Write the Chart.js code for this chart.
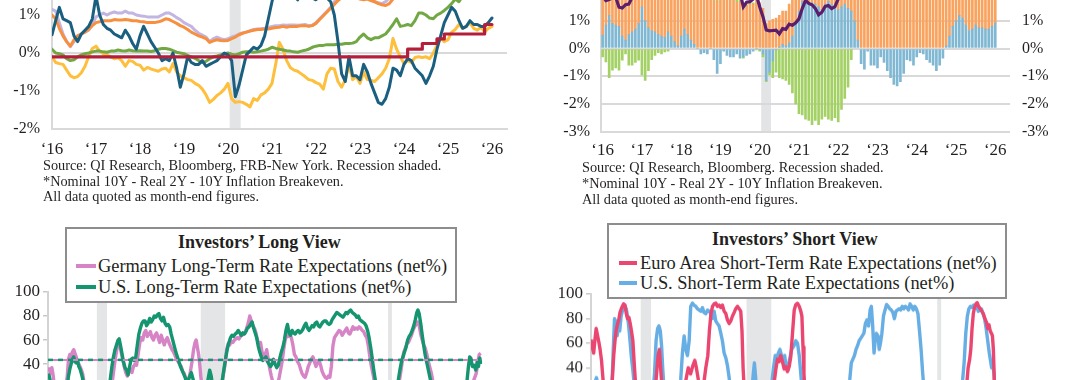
<!DOCTYPE html>
<html>
<head>
<meta charset="utf-8">
<title>Rates dashboard</title>
<script src="https://cdn.jsdelivr.net/npm/chart.js@4.4.1/dist/chart.umd.min.js"></script>
<style>
  html, body { margin:0; padding:0; background:#ffffff; }
  body { width:1080px; height:380px; overflow:hidden; position:relative; font-family:"Liberation Serif","Times New Roman",serif; color:#231f20; }
  .cbox { position:absolute; }
  .cbox canvas { display:block; }
  .note { position:absolute; font-size:14.3px; white-space:nowrap; z-index:4; }
  .legend { position:absolute; background:#fff; border:2px solid #8d8d8d; box-sizing:border-box; z-index:5; }
  .ltxt { position:absolute; white-space:nowrap; font-size:18.4px; line-height:20px; z-index:6; }
  .ltitle { position:absolute; white-space:nowrap; font-size:18px; line-height:20px; font-weight:bold; z-index:6; }
  .sw { position:absolute; height:4px; width:20px; z-index:6; }
</style>
</head>
<body>
<div class="cbox" style="left:0px;top:-70.7px;width:517px;height:235px"><canvas id="tl"></canvas></div>
<div class="cbox" style="left:541px;top:-100.2px;width:529px;height:266.6px"><canvas id="tr"></canvas></div>
<div class="cbox" style="left:0px;top:281.7px;width:487.3px;height:252px"><canvas id="bl"></canvas></div>
<div class="cbox" style="left:541px;top:284.3px;width:497.2px;height:256.6px"><canvas id="br"></canvas></div>

<div class="note" style="left:43px;top:158px;line-height:15.5px">Source: QI Research, Bloomberg, FRB-New York. Recession shaded.<br>*Nominal 10Y - Real 2Y - 10Y Inflation Breakeven.<br>All data quoted as month-end figures.</div>
<div class="note" style="left:582px;top:158.5px;line-height:16.3px">Source: QI Research, Bloomberg. Recession shaded.<br>*Nominal 10Y - Real 2Y - 10Y Inflation Breakeven.<br>All data quoted as month-end figures.</div>

<div class="legend" style="left:65px;top:227px;width:392px;height:76px"></div>
<div class="ltitle" style="left:178px;top:232px">Investors’ Long View</div>
<div class="sw" style="left:76px;top:264px;background:#d684c5"></div>
<div class="ltxt" style="left:98px;top:256px">Germany Long-Term Rate Expectations (net%)</div>
<div class="sw" style="left:76px;top:285px;background:#14956f"></div>
<div class="ltxt" style="left:98px;top:277px">U.S. Long-Term Rate Expectations (net%)</div>

<div class="legend" style="left:607px;top:223px;width:400px;height:76px"></div>
<div class="ltitle" style="left:712px;top:229px">Investors’ Short View</div>
<div class="sw" style="left:619px;top:261px;width:18px;background:#ea4670"></div>
<div class="ltxt" style="left:640px;top:253px">Euro Area Short-Term Rate Expectations (net%)</div>
<div class="sw" style="left:619px;top:281px;width:18px;background:#67aee4"></div>
<div class="ltxt" style="left:640px;top:273px">U.S. Short-Term Rate Expectations (net%)</div>

<script>
// ---------------- DATA ----------------
const yearTicks = ['‘16','‘17','‘18','‘19','‘20','‘21','‘22','‘23','‘24','‘25','‘26'];
const recessions = [[2001.17,2001.83],[2007.92,2009.5],[2020.08,2020.33]];

// Top-left: monthly, Jan 2016 .. Jan 2026 (percent)
const residualPct = [
 0.48,0.85,1.2,0.9,0.85,0.8,0.45,0.3,0.5,0.6,0.7,0.9,
 1.5,1.0,0.75,0.65,0.6,0.5,0.45,0.4,0.6,0.45,0.25,0.1,
 0.45,0.7,0.5,0.3,0.15,0.0,-0.2,-0.15,-0.2,0.0,-0.4,-0.9,
 -0.55,-0.1,-0.25,-0.3,-0.3,-0.2,-0.35,-0.3,-0.25,-0.2,-0.1,0.0,
 -0.05,-0.2,-1.15,-0.85,-0.45,-0.05,0.05,0.15,0.1,0.2,0.45,0.9,
 1.35,1.7,1.8,1.6,1.65,1.6,1.5,1.4,1.6,1.7,1.6,1.45,
 1.4,1.5,1.6,1.45,1.35,1.0,0.3,-0.55,-0.75,-0.1,-0.6,-0.6,
 -0.7,-0.3,-0.5,-0.8,-1.05,-1.3,-1.35,-1.2,-0.9,-0.4,-0.45,-0.6,
 -0.3,-0.15,-0.2,-0.4,-0.5,-0.6,-0.8,-0.6,-0.35,0.1,0.45,0.8,
 1.0,1.2,1.1,0.85,0.65,0.7,0.85,0.75,0.75,0.7,0.7,0.8,
 0.92];
const lilacPct = [
 1.15,1.1,0.8,0.5,0.3,0.17,0.3,0.45,0.5,0.55,0.6,0.75,
 0.95,1.0,1.05,1.0,1.05,1.08,1.05,1.05,1.1,1.05,1.05,1.0,
 0.98,0.97,0.95,0.95,0.95,0.95,1.0,1.05,1.05,1.0,0.93,0.88,
 0.8,0.75,0.7,0.6,0.52,0.47,0.42,0.3,0.38,0.42,0.38,0.35,
 0.38,0.42,0.45,0.5,0.53,0.55,0.58,0.62,0.63,0.64,0.65,0.67,
 0.7,0.72,0.72,0.74,0.73,0.74,0.74,0.73,0.74,0.75,0.72,0.73,
 0.8,0.9,1.0,1.1,1.2,1.35,1.42,1.5,1.55,1.6,1.55,1.5,
 1.45,1.42,1.45,1.4,1.35,1.32,1.3,1.35,1.45,1.55,1.6,1.65,
 1.7,1.72,1.75,1.8,1.78,1.75,1.7,1.72,1.75,1.8,1.85,1.9,
 1.9,1.95,2.0,2.0,1.95,1.9,1.95,2.0,2.0,2.05,2.05,2.1,
 2.1];
const orangePct = [
 1.0,0.9,0.65,0.45,0.3,0.18,0.35,0.45,0.5,0.55,0.62,0.72,
 0.8,0.82,0.85,0.85,0.85,0.88,0.87,0.87,0.88,0.87,0.85,0.85,
 0.83,0.82,0.8,0.8,0.8,0.82,0.85,0.9,0.88,0.83,0.78,0.72,
 0.68,0.62,0.55,0.5,0.45,0.42,0.38,0.28,0.32,0.35,0.33,0.32,
 0.33,0.38,0.42,0.48,0.52,0.55,0.58,0.6,0.62,0.62,0.63,0.63,
 0.65,0.67,0.68,0.7,0.68,0.7,0.7,0.7,0.72,0.72,0.7,0.72,
 0.78,0.88,0.98,1.08,1.18,1.28,1.38,1.45,1.5,1.55,1.5,1.45,
 1.42,1.4,1.42,1.38,1.35,1.3,1.27,1.25,1.3,1.42,1.5,1.55,
 1.6,1.62,1.65,1.7,1.68,1.65,1.62,1.65,1.68,1.72,1.78,1.82,
 1.85,1.88,1.9,1.92,1.88,1.85,1.88,1.92,1.95,1.98,2.0,2.02,
 2.05];
const greenPct = [
 0.1,0.0,-0.02,-0.05,-0.15,-0.2,-0.18,-0.1,-0.05,-0.02,0.0,0.03,
 0.05,0.05,0.03,0.02,0.05,0.05,0.08,0.06,0.05,0.08,0.06,0.05,
 0.06,0.05,0.05,0.04,0.06,0.1,0.12,0.12,0.1,0.06,0.02,0.0,
 -0.02,-0.06,-0.1,-0.14,-0.2,-0.25,-0.22,-0.15,-0.1,-0.08,-0.05,-0.02,
 0.0,-0.03,-0.05,-0.02,0.02,0.03,0.03,0.02,0.03,0.05,0.07,0.1,
 0.15,0.12,0.1,0.08,0.06,0.05,0.03,0.02,0.05,0.07,0.1,0.15,
 0.18,0.2,0.2,0.22,0.22,0.22,0.23,0.23,0.25,0.25,0.26,0.3,
 0.42,0.5,0.4,0.35,0.4,0.4,0.45,0.5,0.62,0.75,0.9,0.7,
 0.72,0.75,0.72,0.85,1.05,1.05,1.0,0.92,0.9,1.0,1.05,1.12,
 1.2,1.3,1.42,1.35,1.5,1.55,1.6,1.55,1.6,1.65,1.6,1.65,
 1.7];
const goldPct = [
 -0.1,-0.25,-0.28,-0.3,-0.45,-0.6,-0.65,-0.62,-0.52,-0.35,-0.1,0.12,
 0.18,0.05,-0.02,-0.05,-0.1,-0.15,-0.12,-0.2,-0.35,-0.2,-0.22,-0.3,
 -0.32,-0.45,-0.38,-0.42,-0.45,-0.48,-0.42,-0.4,-0.5,-0.28,-0.5,-0.6,
 -0.65,-0.7,-0.72,-0.8,-0.85,-0.95,-1.1,-1.3,-1.22,-1.12,-1.05,-0.95,
 -0.8,-1.2,-1.3,-1.28,-1.3,-1.35,-1.42,-1.2,-1.25,-1.1,-1.05,-0.95,
 -0.8,-0.3,0.28,0.1,-0.2,-0.38,-0.45,-0.48,-0.55,-0.62,-0.7,-0.72,
 -0.78,-0.82,-0.95,-0.55,-0.4,-0.42,-0.75,-0.9,-0.7,-0.3,-0.7,-0.62,
 -0.8,-0.5,-0.7,-0.72,-0.75,-0.65,-0.55,-0.4,-0.15,0.38,0.1,-0.1,
 -0.28,-0.2,-0.25,-0.12,-0.1,-0.12,-0.1,-0.15,0.0,0.2,0.4,0.3,
 0.35,0.55,0.62,0.75,0.65,0.7,0.8,0.65,0.6,0.68,0.55,0.65,
 0.7];
const stepMonth = [0,97,101,105,107,118,120];
const stepPct   = [-0.1,0.1,0.25,0.37,0.5,0.75,0.75];

// Top-right: monthly stacked bars (blue bars = residualPct)
const breakeven10y = [
 1.6,1.7,1.63,1.68,1.6,1.45,1.5,1.5,1.6,1.7,1.9,1.97,
 2.0,2.0,1.95,1.9,1.85,1.75,1.8,1.8,1.85,1.9,1.9,1.97,
 2.1,2.1,2.05,2.17,2.1,2.1,2.1,2.1,2.14,2.1,1.95,1.7,
 1.8,1.85,1.9,1.9,1.75,1.68,1.7,1.55,1.53,1.6,1.6,1.75,
 1.65,1.45,0.9,1.0,1.05,1.1,1.15,1.2,1.25,1.4,1.55,1.8,
 2.1,2.15,2.37,2.4,2.45,2.3,2.35,2.35,2.37,2.55,2.5,2.55,
 2.45,2.6,2.8,2.9,2.65,2.35,2.4,2.45,2.15,2.5,2.4,2.3,
 2.25,2.4,2.3,2.25,2.25,2.2,2.3,2.3,2.35,2.45,2.25,2.15,
 2.3,2.35,2.3,2.45,2.3,2.25,2.25,2.1,2.15,2.3,2.35,2.3,
 2.4,2.4,2.4,2.2,2.35,2.3,2.4,2.35,2.35,2.3,2.25,2.25,
 2.3];
const real2y = [
 -0.3,-0.48,-1.05,-0.78,-0.7,-0.78,-0.42,-0.2,-0.6,-0.6,-0.5,-0.42,
 -0.95,-1.15,-0.8,-0.4,-0.25,-0.15,-0.2,-0.12,-0.1,0.05,0.15,0.2,
 0.3,0.4,0.5,0.55,0.6,0.7,0.75,0.7,0.85,0.95,0.9,0.7,
 0.8,0.9,0.5,0.5,0.25,0.2,0.1,-0.05,0.05,0.1,0.05,-0.05,
 -0.05,-0.1,-0.05,-0.1,-0.6,-0.8,-1.05,-1.1,-1.15,-1.3,-1.6,-2.0,
 -2.35,-2.4,-2.55,-2.6,-2.75,-2.6,-2.75,-2.55,-2.45,-2.55,-2.6,-2.5,
 -2.65,-2.2,-1.8,-1.4,-0.4,0.2,0.5,0.9,1.6,1.9,1.8,2.0,
 1.9,2.3,1.7,1.6,1.9,2.2,2.1,2.3,2.5,2.4,2.2,1.8,
 1.8,2.1,2.0,2.3,2.1,2.0,1.7,1.4,1.2,1.6,1.6,1.8,
 1.7,1.5,1.3,1.2,1.5,1.3,1.4,1.2,1.1,1.0,1.0,1.1,
 1.2];
const nominal10y = [
 1.92,1.73,1.77,1.83,1.85,1.49,1.46,1.58,1.6,1.84,2.37,2.45,
 2.45,2.39,2.4,2.29,2.21,2.31,2.3,2.12,2.33,2.38,2.41,2.4,
 2.72,2.87,2.74,2.95,2.83,2.85,2.96,2.86,3.06,3.15,3.01,2.69,
 2.63,2.72,2.41,2.51,2.14,2.0,2.02,1.5,1.67,1.69,1.78,1.92,
 1.51,1.15,0.67,0.64,0.65,0.66,0.53,0.72,0.69,0.88,0.84,0.93,
 1.07,1.44,1.74,1.63,1.58,1.45,1.22,1.31,1.52,1.55,1.44,1.51,
 1.79,1.83,2.32,2.89,2.85,2.98,2.65,3.19,3.83,4.05,3.68,3.88,
 3.52,3.92,3.49,3.44,3.64,3.84,3.97,4.09,4.59,4.93,4.33,3.88,
 3.91,4.25,4.2,4.68,4.51,4.4,4.03,3.91,3.78,4.28,4.17,4.57,
 4.54,4.21,4.21,4.16,4.4,4.23,4.37,4.23,4.15,4.08,4.02,4.17,
 4.24];

// Bottom-left: [year, net%]
const deLongView = [[1998.00,34],[1998.08,36],[1998.17,32],[1998.25,37],[1998.33,31],[1998.45,18],[1998.80,5],[1999.10,15],[1999.25,30],[1999.33,44],[1999.42,48],[1999.50,46],[1999.58,50],[1999.67,52],[1999.75,49],[1999.83,46],[1999.92,42],[2000.00,40],[2000.08,38],[2000.17,35],[2000.25,32],[2000.40,20],[2000.80,5],[2001.50,-5],[2002.00,10],[2002.20,28],[2002.30,38],[2002.40,47],[2002.50,54],[2002.58,58],[2002.67,56],[2002.75,50],[2002.85,44],[2002.95,38],[2003.05,33],[2003.15,30],[2003.25,34],[2003.35,36],[2003.45,33],[2003.55,38],[2003.65,40],[2003.75,39],[2003.85,48],[2003.95,57],[2004.05,62],[2004.15,60],[2004.25,66],[2004.35,68],[2004.45,63],[2004.55,65],[2004.65,67],[2004.75,62],[2004.85,60],[2004.95,64],[2005.05,66],[2005.15,62],[2005.25,58],[2005.35,64],[2005.45,60],[2005.55,56],[2005.65,60],[2005.75,62],[2005.85,58],[2005.95,55],[2006.05,52],[2006.15,50],[2006.25,47],[2006.35,44],[2006.45,42],[2006.55,40],[2006.65,38],[2006.75,34],[2006.85,32],[2006.95,28],[2007.05,24],[2007.15,28],[2007.25,34],[2007.35,42],[2007.45,52],[2007.55,58],[2007.62,60],[2007.70,54],[2007.78,48],[2007.85,40],[2007.92,30],[2008.05,15],[2008.50,0],[2009.00,10],[2009.30,25],[2009.50,40],[2009.60,52],[2009.70,57],[2009.80,56],[2009.90,59],[2010.00,58],[2010.10,60],[2010.20,61],[2010.30,62],[2010.40,61],[2010.50,63],[2010.60,64],[2010.70,65],[2010.80,66],[2010.90,70],[2011.00,74],[2011.10,80],[2011.20,76],[2011.30,72],[2011.40,70],[2011.50,66],[2011.60,60],[2011.70,57],[2011.80,58],[2011.90,50],[2012.00,46],[2012.10,48],[2012.20,52],[2012.30,44],[2012.40,36],[2012.50,30],[2012.60,25],[2012.80,20],[2013.00,28],[2013.10,35],[2013.20,42],[2013.30,52],[2013.40,60],[2013.50,64],[2013.60,63],[2013.70,64],[2013.80,62],[2013.90,56],[2014.00,48],[2014.10,46],[2014.20,42],[2014.30,40],[2014.40,36],[2014.50,32],[2014.60,30],[2014.70,29],[2014.80,33],[2014.90,38],[2015.00,41],[2015.10,44],[2015.20,46],[2015.30,42],[2015.40,38],[2015.50,41],[2015.60,43],[2015.70,39],[2015.80,34],[2015.90,31],[2016.00,29],[2016.10,28],[2016.20,30],[2016.30,29],[2016.40,38],[2016.50,55],[2016.60,62],[2016.70,64],[2016.80,66],[2016.90,68],[2017.00,67],[2017.10,64],[2017.20,66],[2017.30,68],[2017.40,70],[2017.50,66],[2017.60,65],[2017.70,68],[2017.80,71],[2017.90,69],[2018.00,70],[2018.10,69],[2018.20,71],[2018.30,70],[2018.40,68],[2018.50,67],[2018.60,64],[2018.70,62],[2018.80,55],[2018.90,46],[2019.00,38],[2019.10,32],[2019.20,25],[2019.40,10],[2019.80,0],[2020.30,-10],[2020.60,5],[2020.80,25],[2020.90,33],[2021.00,42],[2021.10,50],[2021.20,53],[2021.30,57],[2021.40,58],[2021.50,61],[2021.60,64],[2021.70,68],[2021.80,71],[2021.90,73],[2022.00,75],[2022.10,72],[2022.20,65],[2022.30,60],[2022.40,56],[2022.50,53],[2022.60,48],[2022.70,42],[2022.80,37],[2022.90,32],[2023.00,25],[2023.30,10],[2024.00,0],[2024.80,10],[2025.30,20],[2025.60,25],[2025.80,32],[2025.90,40],[2026.00,48],[2026.10,49]];
const usLongView = [[1998.00,32],[1998.08,30],[1998.15,26],[1998.30,10],[1998.80,0],[1999.20,15],[1999.33,30],[1999.42,36],[1999.50,40],[1999.58,44],[1999.67,46],[1999.75,42],[1999.83,41],[1999.92,43],[2000.00,38],[2000.08,36],[2000.17,32],[2000.25,28],[2000.40,15],[2000.80,0],[2001.50,-10],[2001.90,10],[2002.05,28],[2002.15,38],[2002.25,46],[2002.35,52],[2002.45,56],[2002.55,60],[2002.62,61],[2002.70,56],[2002.80,49],[2002.90,42],[2003.00,37],[2003.10,35],[2003.20,31],[2003.30,38],[2003.40,44],[2003.50,45],[2003.60,43],[2003.70,46],[2003.80,56],[2003.90,65],[2004.00,70],[2004.10,74],[2004.20,76],[2004.30,76],[2004.40,72],[2004.50,74],[2004.60,78],[2004.70,75],[2004.80,77],[2004.90,80],[2005.00,79],[2005.10,81],[2005.20,82],[2005.30,78],[2005.40,76],[2005.50,79],[2005.60,74],[2005.70,72],[2005.80,73],[2005.90,71],[2006.00,65],[2006.10,60],[2006.20,55],[2006.30,50],[2006.40,46],[2006.50,42],[2006.60,38],[2006.70,35],[2006.80,32],[2006.90,29],[2007.00,25],[2007.15,28],[2007.30,33],[2007.45,26],[2007.70,10],[2008.00,5],[2008.30,20],[2008.40,28],[2008.50,35],[2008.60,30],[2008.70,20],[2009.00,5],[2009.30,25],[2009.45,38],[2009.55,46],[2009.65,53],[2009.75,58],[2009.85,62],[2009.95,64],[2010.05,63],[2010.15,65],[2010.25,66],[2010.35,68],[2010.45,66],[2010.55,64],[2010.65,66],[2010.75,65],[2010.85,67],[2010.95,70],[2011.05,71],[2011.15,73],[2011.25,75],[2011.35,70],[2011.45,66],[2011.55,62],[2011.65,55],[2011.75,50],[2011.85,46],[2011.95,43],[2012.05,44],[2012.15,46],[2012.25,42],[2012.35,40],[2012.45,38],[2012.55,40],[2012.65,44],[2012.75,40],[2012.85,37],[2012.95,39],[2013.05,45],[2013.15,50],[2013.25,54],[2013.35,60],[2013.45,68],[2013.55,73],[2013.65,66],[2013.75,64],[2013.85,68],[2013.95,66],[2014.05,65],[2014.15,67],[2014.25,68],[2014.35,66],[2014.45,67],[2014.55,69],[2014.65,72],[2014.75,74],[2014.85,70],[2014.95,68],[2015.05,70],[2015.15,72],[2015.25,71],[2015.35,74],[2015.45,75],[2015.55,72],[2015.65,71],[2015.75,73],[2015.85,75],[2015.95,76],[2016.05,76],[2016.15,74],[2016.25,73],[2016.35,74],[2016.45,77],[2016.55,79],[2016.65,81],[2016.75,83],[2016.85,82],[2016.95,81],[2017.05,80],[2017.15,79],[2017.25,81],[2017.35,83],[2017.45,82],[2017.55,84],[2017.65,85],[2017.75,83],[2017.85,82],[2017.95,81],[2018.05,79],[2018.15,80],[2018.25,77],[2018.35,76],[2018.45,75],[2018.55,74],[2018.65,72],[2018.75,68],[2018.85,62],[2018.95,54],[2019.05,45],[2019.15,35],[2019.25,27],[2019.40,15],[2019.80,0],[2020.30,-10],[2020.60,10],[2020.75,27],[2020.85,35],[2020.95,42],[2021.05,46],[2021.15,50],[2021.25,54],[2021.35,60],[2021.45,63],[2021.55,65],[2021.65,68],[2021.75,72],[2021.85,77],[2021.95,83],[2022.02,85],[2022.10,82],[2022.20,74],[2022.30,64],[2022.40,55],[2022.50,47],[2022.60,41],[2022.70,35],[2022.80,29],[2022.95,20],[2023.50,5],[2024.30,0],[2024.90,15],[2025.20,25],[2025.30,38],[2025.38,46],[2025.45,45],[2025.56,38],[2025.67,39],[2025.78,35],[2025.88,43],[2025.95,38],[2026.04,45],[2026.10,40]];
const longViewAverage = [43.5, 43.5]; // [Germany, U.S.] long-run means

// Bottom-right: [year, net%]
const euShortView = [[1998.00,63],[1998.08,57],[1998.17,52],[1998.25,63],[1998.33,72],[1998.42,66],[1998.50,61],[1998.58,55],[1998.67,46],[1998.77,30],[1998.90,10],[1999.10,5],[1999.30,20],[1999.38,35],[1999.45,50],[1999.53,62],[1999.60,70],[1999.68,75],[1999.77,79],[1999.85,85],[1999.93,88],[2000.00,90],[2000.08,92],[2000.17,91],[2000.25,84],[2000.33,80],[2000.42,81],[2000.50,76],[2000.58,70],[2000.67,62],[2000.75,45],[2000.85,25],[2001.10,0],[2001.60,-20],[2002.00,5],[2002.15,30],[2002.28,50],[2002.36,55],[2002.44,40],[2002.55,20],[2002.90,0],[2003.50,-10],[2003.90,20],[2004.05,30],[2004.20,40],[2004.35,35],[2004.50,42],[2004.62,46],[2004.72,40],[2004.85,30],[2005.00,20],[2005.20,28],[2005.32,40],[2005.45,50],[2005.55,70],[2005.65,84],[2005.75,90],[2005.85,92],[2005.96,92.7],[2006.06,90],[2006.17,91],[2006.28,89],[2006.38,91],[2006.49,86],[2006.60,84],[2006.70,79],[2006.81,76],[2006.91,78],[2007.02,82],[2007.13,85],[2007.23,88],[2007.34,90],[2007.45,88],[2007.55,86],[2007.63,70],[2007.70,40],[2007.80,15],[2008.00,-20],[2008.80,-50],[2009.30,10],[2009.70,30],[2009.79,39],[2009.89,47],[2010.00,45],[2010.10,50],[2010.21,45],[2010.32,39],[2010.43,41],[2010.53,37],[2010.64,41],[2010.74,49],[2010.85,68],[2010.96,87],[2011.06,91.4],[2011.17,92.5],[2011.28,90],[2011.38,86],[2011.45,82],[2011.52,57],[2011.58,35],[2011.70,10],[2012.00,-30],[2013.00,-50],[2014.50,-60],[2016.00,-70],[2017.50,-40],[2018.50,-20],[2019.50,-50],[2020.50,-40],[2021.50,-10],[2021.85,20],[2021.95,25],[2022.05,40],[2022.15,47],[2022.22,55],[2022.30,72],[2022.38,84],[2022.46,89],[2022.55,92],[2022.63,93],[2022.72,90],[2022.82,88],[2022.92,86],[2023.02,84],[2023.12,80],[2023.22,77],[2023.30,72],[2023.38,75],[2023.46,70],[2023.54,68],[2023.60,66],[2023.66,55],[2023.72,30],[2023.85,10],[2024.30,-40],[2025.00,-50],[2025.60,-20],[2026.10,-10]];
const usShortView = [[1998.00,15],[1998.25,28],[1998.35,32],[1998.45,25],[1998.70,0],[1999.20,10],[1999.35,30],[1999.42,55],[1999.50,80],[1999.58,78],[1999.67,66],[1999.75,78],[1999.83,70],[1999.92,82],[2000.00,86],[2000.08,88],[2000.17,90],[2000.25,88],[2000.33,82],[2000.42,72],[2000.50,60],[2000.58,48],[2000.67,38],[2000.80,20],[2001.20,-20],[2001.70,-10],[2001.95,20],[2002.05,35],[2002.15,62],[2002.25,72],[2002.33,74],[2002.42,70],[2002.50,58],[2002.58,38],[2002.70,15],[2003.00,-10],[2003.50,10],[2003.72,30],[2003.83,52],[2003.94,66],[2004.04,55],[2004.15,50],[2004.26,62],[2004.36,90],[2004.47,92.7],[2004.57,91],[2004.68,90],[2004.79,88],[2004.89,87],[2005.00,86],[2005.11,89],[2005.20,85],[2005.32,84],[2005.43,87],[2005.53,86],[2005.64,84],[2005.74,80],[2005.85,86],[2005.96,78],[2006.06,76],[2006.17,74],[2006.28,68],[2006.38,62],[2006.49,52],[2006.60,48],[2006.70,42],[2006.81,32],[2006.91,20],[2007.50,-10],[2008.00,-20],[2008.25,20],[2008.35,35],[2008.42,44],[2008.50,32],[2008.60,10],[2009.00,-20],[2009.40,20],[2009.55,30],[2009.65,41],[2009.75,50],[2009.85,48],[2009.95,52],[2010.05,55],[2010.15,50],[2010.25,46],[2010.35,50],[2010.45,40],[2010.55,38],[2010.65,46],[2010.80,55],[2010.95,58],[2011.06,62],[2011.17,60],[2011.28,50],[2011.40,32],[2011.50,15],[2012.00,-20],[2013.00,-10],[2014.00,-5],[2014.40,20],[2014.50,30],[2014.60,44],[2014.70,47],[2014.80,50],[2014.90,55],[2015.00,58],[2015.10,62],[2015.20,64],[2015.30,66],[2015.40,68],[2015.50,76],[2015.60,79],[2015.70,74],[2015.80,87],[2015.88,90],[2015.96,75],[2016.05,52],[2016.12,62],[2016.20,68],[2016.30,66],[2016.38,55],[2016.46,60],[2016.55,68],[2016.65,82],[2016.75,87],[2016.85,91.5],[2016.95,90],[2017.05,88],[2017.15,87],[2017.25,85],[2017.35,80],[2017.45,86],[2017.55,87],[2017.65,88],[2017.75,87],[2017.85,90],[2017.95,88],[2018.05,90],[2018.15,89],[2018.25,87],[2018.35,92],[2018.45,90],[2018.55,87],[2018.65,90],[2018.75,88],[2018.85,84],[2018.95,70],[2019.05,55],[2019.15,36],[2019.25,20],[2019.60,-30],[2020.20,-70],[2020.80,-40],[2021.40,0],[2021.60,20],[2021.70,30],[2021.80,45],[2021.90,68],[2022.00,82],[2022.10,88],[2022.20,90],[2022.30,89],[2022.40,91],[2022.50,89],[2022.60,90],[2022.70,86],[2022.80,87],[2022.90,88],[2023.00,84],[2023.10,80],[2023.20,72],[2023.30,62],[2023.40,52],[2023.50,44],[2023.55,40],[2023.62,44],[2023.70,35],[2023.80,15],[2024.30,-30],[2025.00,-50],[2025.60,-30],[2026.10,-20]];

// ---------------- CHARTS ----------------
Chart.defaults.font.family = "'Liberation Serif','Times New Roman',serif";
Chart.defaults.color = '#231f20';
Chart.defaults.devicePixelRatio = 1;

const shadePlugin = {
  id: 'shade',
  beforeDraw(chart, args, opts) {
    const {ctx, chartArea: a} = chart;
    const xs = chart.scales.x;
    ctx.save();
    ctx.fillStyle = opts.color || '#e4e5e7';
    (opts.spans || []).forEach(([s, e]) => {
      const x1 = xs.getPixelForValue(s), x2 = xs.getPixelForValue(e);
      ctx.fillRect(x1, a.top, x2 - x1, a.bottom - a.top);
    });
    ctx.restore();
  }
};
const monthIdx = y => (y - 2016) * 12 - 0.5;
const monthSpans = recessions.filter(r => r[0] > 2016).map(r => [monthIdx(r[0]), monthIdx(r[1])]);
const pts = arr => arr.map((v, i) => ({x: i, y: v}));
const pairs = arr => arr.map(p => ({x: p[0], y: p[1]}));
const common = {animation:false, responsive:true, maintainAspectRatio:false, devicePixelRatio:1, events: []};
const GRID = '#d9d9d9';
// fixed axis sizes, no automatic label-overflow padding
const fixY = w => s => { s.width = w; s.paddingTop = 0; s.paddingBottom = 0; };
const fixX = h => s => { s.height = h; s.paddingLeft = 0; s.paddingRight = 0; };

// Top-left
new Chart(document.getElementById('tl'), {
  type: 'line',
  data: { datasets: [
    {data: stepMonth.map((m,k)=>({x:m, y:stepPct[k]})), borderColor:'#b31f3b', borderWidth:3.2, stepped:true},
    {data: pts(residualPct), borderColor:'#1b5f80', borderWidth:3},
    {data: pts(greenPct), borderColor:'#72a844', borderWidth:3},
    {data: pts(goldPct), borderColor:'#fdbf3c', borderWidth:3},
    {data: pts(orangePct), borderColor:'#f78f3e', borderWidth:3},
    {data: pts(lilacPct), borderColor:'#c2b5e2', borderWidth:3}
  ]},
  options: Object.assign({}, common, {
    layout: {padding: {top:10, right:10, left:0, bottom:0}},
    elements: {point:{radius:0}, line:{tension:0, borderJoinStyle:'round', borderCapStyle:'round'}},
    plugins: {legend:{display:false}, tooltip:{enabled:false}, shade:{spans: monthSpans, color:'#e3e4e6'}},
    scales: {
      x: {type:'linear', min:0, max:124.1,
          grid:{display:false, drawTicks:false}, border:{display:true, color:GRID, width:2},
          ticks:{stepSize:12, includeBounds:false, autoSkip:false, maxRotation:0, padding:10, font:{size:17},
                 callback: v => (v % 12 === 0 ? yearTicks[v/12] : '')},
          afterFit: fixX(35)},
      y: {min:-2, max:3,
          ticks:{stepSize:1, autoSkip:false, padding:12, font:{size:16}, callback: v => v + '%'},
          grid:{drawTicks:false, lineWidth:2, color: c => (c.tick && c.tick.value === 0 ? GRID : 'rgba(0,0,0,0)')},
          border:{display:true, color:GRID, width:2},
          afterFit: fixY(52)}
    }
  }),
  plugins: [shadePlugin]
});

// Top-right
const trSlots = Array.from({length:125}, (_, k) => k);
new Chart(document.getElementById('tr'), {
  type: 'bar',
  data: { labels: trSlots, datasets: [
    {type:'line', data: nominal10y, borderColor:'#5a1e6c', borderWidth:3.2, pointRadius:0, tension:0, stack:'line', order:0, yAxisID:'y'},
    {data: residualPct, backgroundColor:'#80b8d4', stack:'bars', barThickness:2, order:1},
    {data: breakeven10y, backgroundColor:'#f9a35f', stack:'bars', barThickness:2, order:1},
    {data: real2y, backgroundColor:'#a4d165', stack:'bars', barThickness:2, order:1}
  ]},
  options: Object.assign({}, common, {
    layout: {padding: {top:10, right:0, left:0, bottom:0}},
    plugins: {legend:{display:false}, tooltip:{enabled:false}, shade:{spans: monthSpans, color:'#e3e4e6'}},
    scales: {
      x: {stacked:true, grid:{display:false, drawTicks:false}, border:{display:false},
          ticks:{autoSkip:false, maxRotation:0, padding:8.5, font:{size:17},
                 callback: (v, i) => (i % 12 === 0 && i <= 120 ? yearTicks[i/12] : '')},
          afterFit: fixX(35)},
      y: {stacked:true, min:-3, max:5, position:'left',
          ticks:{stepSize:1, autoSkip:false, padding:11, font:{size:16}, callback: v => v + '%'},
          grid:{drawTicks:false, lineWidth:2, color:GRID},
          border:{display:true, color:GRID, width:2},
          afterFit: fixY(60)},
      y2: {min:-3, max:5, position:'right',
          ticks:{stepSize:1, autoSkip:false, padding:12, font:{size:16}, callback: v => v + '%'},
          grid:{drawOnChartArea:false, drawTicks:false}, border:{display:false},
          afterFit: fixY(60)}
    }
  }),
  plugins: [shadePlugin]
});

function surveyChart(id, series, colors, means, meanColors, axisW) {
  const ds = [];
  if (means) {
    ds.push({data:[{x:1998.0,y:means[1]},{x:2026.1,y:means[1]}], borderColor:meanColors[1], borderWidth:2.5, borderDash:[5,5]});
    ds.push({data:[{x:1998.0,y:means[0]},{x:2026.1,y:means[0]}], borderColor:meanColors[0], borderWidth:2});
  }
  series.forEach((s, k) => ds.push({data: pairs(s), borderColor: colors[k], borderWidth:3.4}));
  return new Chart(document.getElementById(id), {
    type: 'line',
    data: {datasets: ds},
    options: Object.assign({}, common, {
      layout: {padding: {top:10, right:5, left:0, bottom:0}},
      elements: {point:{radius:0}, line:{tension:0, borderJoinStyle:'round'}},
      plugins: {legend:{display:false}, tooltip:{enabled:false}, shade:{spans: recessions, color:'#e4e5e7'}},
      scales: {
        x: {type:'linear', min:1998.0, max:2026.2, display:false},
        y: {min:-100, max:100,
            ticks:{stepSize:20, autoSkip:false, padding:3, font:{size:17}},
            grid:{drawOnChartArea:false, drawTicks:true, tickLength:5, color:'#c8c8c8', lineWidth:1.5},
            border:{display:true, color:'#d4d4d4', width:2},
            afterFit: fixY(axisW)}
      }
    }),
    plugins: [shadePlugin]
  });
}
surveyChart('bl', [usLongView, deLongView], ['#14956f', '#d684c5'], longViewAverage, ['#d684c5', '#14956f'], 48);
surveyChart('br', [euShortView, usShortView], ['#ea4670', '#67aee4'], null, null, 50);
</script>
</body>
</html>
